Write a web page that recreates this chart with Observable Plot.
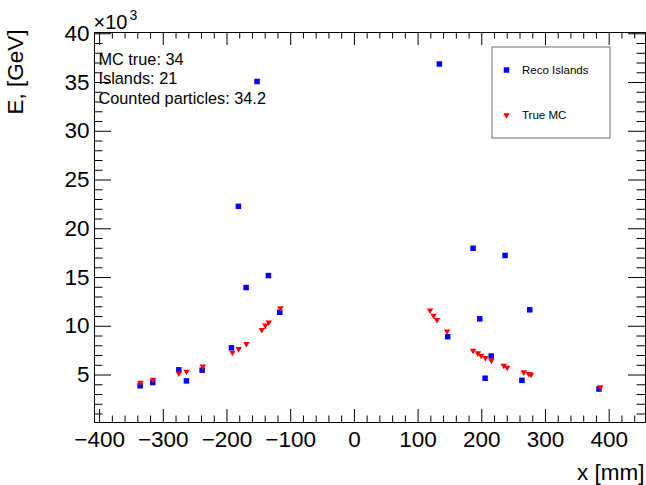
<!DOCTYPE html>
<html>
<head>
<meta charset="utf-8">
<script src="https://cdn.jsdelivr.net/npm/d3@7"></script>
<script src="https://cdn.jsdelivr.net/npm/@observablehq/plot@0.6"></script>
<style>
  html, body { margin: 0; padding: 0; background: #fff; }
  #chart { width: 646px; height: 485px; }
</style>
</head>
<body>
<div id="chart"></div>
<script>
// ---- data (x in mm, E in units of 10^3 GeV) ----
const recoX = [-336.4, -316.5, -275.6, -263.7, -239, -193, -182.1, -170, -152.8, -135, -117.2,
               133.4, 146.5, 186.3, 196.8, 205.2, 214.8, 236.5, 263.0, 275.3, 384];
const recoE = [3.89, 4.23, 5.53, 4.40, 5.50, 7.79, 22.3, 13.97, 35.1, 15.2, 11.44,
               36.9, 8.93, 18.0, 10.76, 4.67, 6.95, 17.26, 4.45, 11.69, 3.56];
const mcX = [-336, -316, -275.6, -263.5, -238, -191.5, -181.8, -169.5, -145.3, -139.7, -134.5, -116.2,
             118.8, 124.3, 129.6, 145.5, 186.3, 193.8, 198.9, 205.7, 215, 234.5, 239.8, 265.9, 273.8, 277.4, 386];
const mcE = [4.22, 4.54, 5.18, 5.35, 5.90, 7.30, 7.67, 8.20, 9.64, 10.08, 10.40, 11.87,
             11.64, 11.10, 10.66, 9.48, 7.51, 7.24, 7.00, 6.76, 6.49, 5.97, 5.77, 5.29, 5.12, 5.05, 3.75];

const xTicks = [-400, -300, -200, -100, 0, 100, 200, 300, 400];
const yTicks = [5, 10, 15, 20, 25, 30, 35, 40];
const xMinorTicks = d3.range(-400, 457, 20).filter(v => v % 100 !== 0);
const yMinorTicks = d3.range(1, 41, 1).filter(v => v % 5 !== 0);

const infoLines = ["MC true: 34", "Islands: 21", "Counted particles: 34.2"];
const legendLabels = ["Reco Islands", "True MC"];
const xTitle = "x [mm]";
const yTitle = "E, [GeV]";
const yExponent = ["×10", "3"];

const reco = recoX.map((x, i) => ({x, e: recoE[i]}));
const mc = mcX.map((x, i) => ({x, e: mcE[i]}));

// ---- layout ----
const W = 646, H = 485, mL = 94, mR = 1, mT = 32, mB = 63;
const fW = W - mL - mR, fH = H - mT - mB;
const font = "'Liberation Sans', Arial, Helvetica, sans-serif";

const chart = Plot.plot({
  width: W, height: H,
  marginLeft: mL, marginRight: mR, marginTop: mT, marginBottom: mB,
  style: {fontFamily: font, color: "black", background: "white", overflow: "visible"},
  x: {domain: [-408, 457]},
  y: {domain: [0.13, 40.13]},
  marks: [
    // ticks (inward, on all four sides)
    Plot.ruleX(xTicks, {x: d => d, insetTop: fH - 13, stroke: "black"}),
    Plot.ruleX(xMinorTicks, {x: d => d, insetTop: fH - 6.5, stroke: "black"}),
    Plot.ruleX(xTicks, {x: d => d, insetBottom: fH - 13, stroke: "black"}),
    Plot.ruleX(xMinorTicks, {x: d => d, insetBottom: fH - 6.5, stroke: "black"}),
    Plot.ruleY(yTicks, {y: d => d, insetRight: fW - 17, stroke: "black"}),
    Plot.ruleY(yMinorTicks, {y: d => d, insetRight: fW - 8.5, stroke: "black"}),
    Plot.ruleY(yTicks, {y: d => d, insetLeft: fW - 17, stroke: "black"}),
    Plot.ruleY(yMinorTicks, {y: d => d, insetLeft: fW - 8.5, stroke: "black"}),
    Plot.frame({stroke: "black"}),
    // tick labels
    Plot.axisX(xTicks, {anchor: "bottom", tickSize: 0, tickPadding: 9, fontSize: 22.5, label: null,
      tickFormat: d => (d < 0 ? "\u2212" : "") + Math.abs(d)}),
    Plot.axisY(yTicks, {anchor: "left", tickSize: 0, tickPadding: 5, fontSize: 22.5, label: null,
      tickFormat: d => String(d)}),
    // axis titles
    Plot.text([xTitle], {text: d => d, frameAnchor: "bottom-right", textAnchor: "end", lineAnchor: "bottom",
      dx: -1, dy: 57, fontSize: 22.5}),
    Plot.text([yTitle], {text: d => d, frameAnchor: "top-left", textAnchor: "end", lineAnchor: "bottom",
      rotate: -90, dx: -72, dy: -3, fontSize: 22.5}),
    Plot.text([yExponent[0]], {text: d => d, frameAnchor: "top-left", textAnchor: "start", lineAnchor: "bottom",
      dx: -1, dy: -4, fontSize: 20}),
    Plot.text([yExponent[1]], {text: d => d, frameAnchor: "top-left", textAnchor: "start", lineAnchor: "bottom",
      dx: 35, dy: -13, fontSize: 14}),
    // info text
    Plot.text([infoLines.join("\n")], {text: d => d, frameAnchor: "top-left", textAnchor: "start", lineAnchor: "top",
      dx: 4, dy: 18.5, fontSize: 16.3, lineHeight: 1.2}),
    // data
    Plot.dot(reco, {x: "x", y: "e", symbol: "square", r: 3.1, fill: "#0000ff", stroke: "none"}),
    Plot.dot(mc, {x: "x", y: "e", symbol: "triangle", rotate: 180, r: 2.4, fill: "#ff0000", stroke: "none"}),
    // legend
    Plot.rect({length: 1}, {insetLeft: 492 - mL, insetTop: 47 - mT, insetRight: W - mR - 610, insetBottom: H - mB - 138,
      fill: "white", stroke: "#6e6e6e", strokeWidth: 1}),
    Plot.dot([legendLabels[0]], {frameAnchor: "top-left", dx: 506 - mL, dy: 69.5 - mT, symbol: "square", r: 3.1, fill: "#0000ff", stroke: "none"}),
    Plot.text([legendLabels[0]], {text: d => d, frameAnchor: "top-left", dx: 521.5 - mL, dy: 69.5 - mT, textAnchor: "start", lineAnchor: "middle", fontSize: 11.5}),
    Plot.dot([legendLabels[1]], {frameAnchor: "top-left", dx: 506 - mL, dy: 114.5 - mT, symbol: "triangle", rotate: 180, r: 2.4, fill: "#ff0000", stroke: "none"}),
    Plot.text([legendLabels[1]], {text: d => d, frameAnchor: "top-left", dx: 521.5 - mL, dy: 114.5 - mT, textAnchor: "start", lineAnchor: "middle", fontSize: 11.5})
  ]
});
document.getElementById("chart").appendChild(chart);
</script>
</body>
</html>
